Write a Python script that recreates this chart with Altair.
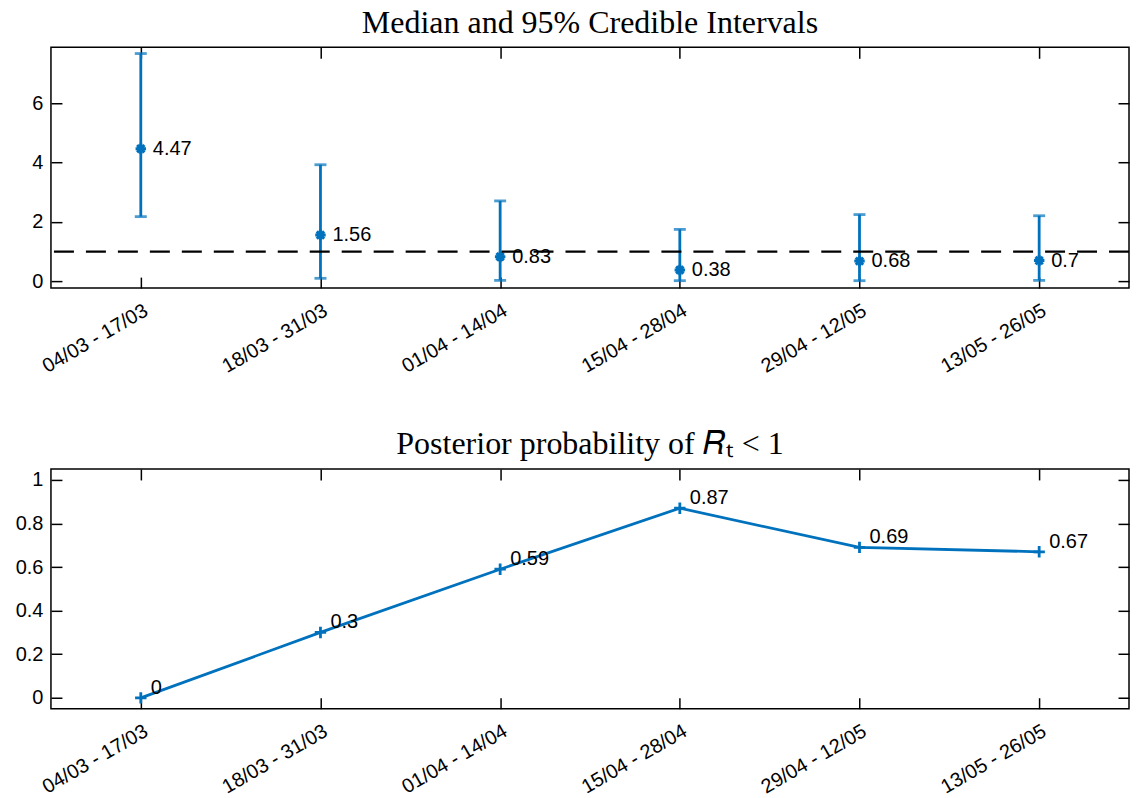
import altair as alt
import pandas as pd

# ---------------- data ----------------
periods = ["04/03 - 17/03", "18/03 - 31/03", "01/04 - 14/04",
           "15/04 - 28/04", "29/04 - 12/05", "13/05 - 26/05"]
median = [4.47, 1.56, 0.83, 0.38, 0.68, 0.7]
lower = [2.18, 0.10, 0.03, 0.02, 0.02, 0.03]
upper = [7.68, 3.93, 2.71, 1.75, 2.25, 2.21]
median_labels = ["4.47", "1.56", "0.83", "0.38", "0.68", "0.7"]
prob = [0, 0.3, 0.59, 0.87, 0.69, 0.67]
prob_labels = ["0", "0.3", "0.59", "0.87", "0.69", "0.67"]
threshold = [1]

top_df = pd.DataFrame({"period": periods, "median": median, "lower": lower,
                       "upper": upper, "label": median_labels})
bot_df = pd.DataFrame({"period": periods, "prob": prob, "label": prob_labels})
thr_df = pd.DataFrame({"y": threshold})

# ---------------- style ----------------
BLUE = "#0072BD"
TS = 11
FONT = "Liberation Sans"
FS = 20
W = 1079
LW = 2.8

ASTERISK = "M-1,0L1,0M0,-1L0,1M-0.7,-0.7L0.7,0.7M-0.7,0.7L0.7,-0.7"
PLUS = "M-1,0L1,0M0,-1L0,1"

xscale = alt.Scale(type="point", domain=periods, padding=0.5)


def ax(orient, labels=True, **kw):
    base = dict(orient=orient, offset=-TS, tickSize=TS, domain=False, grid=False,
                title=None, tickColor="black", tickWidth=1.5, labels=labels)
    if labels:
        base.update(labelFont=FONT, labelFontSize=FS, labelColor="black")
    base.update(kw)
    return alt.Axis(**base)


xb = ax("bottom", labelAngle=-30, labelAlign="right", labelBaseline="top", labelPadding=12)
xt = ax("top", labels=False)


def title(t):
    return alt.Title(t, font="Liberation Serif", fontSize=32, fontWeight="normal",
                     color="black", anchor="middle", frame="group", offset=7)


# ---------------- top chart ----------------
ys1 = alt.Scale(domain=[-0.23, 7.89], nice=False, zero=False)
base1 = alt.Chart(top_df)

err = base1.mark_rule(color=BLUE, strokeWidth=LW).encode(
    x=alt.X("period:N", scale=xscale, axis=xb),
    y=alt.Y("lower:Q", scale=ys1, axis=ax("left", values=[0, 2, 4, 6], labelPadding=8)),
    y2="upper:Q",
)
cap_lo = base1.mark_tick(color=BLUE, orient="horizontal", size=12, thickness=LW).encode(
    x=alt.X("period:N", scale=xscale, axis=xt),
    y=alt.Y("lower:Q", scale=ys1, axis=ax("right", labels=False, values=[0, 2, 4, 6])),
)
cap_hi = base1.mark_tick(color=BLUE, orient="horizontal", size=12, thickness=LW).encode(
    x=alt.X("period:N", scale=xscale, axis=None),
    y=alt.Y("upper:Q", scale=ys1, axis=None),
)
pts1 = base1.mark_point(shape=ASTERISK, size=110, strokeWidth=3, color=BLUE,
                        filled=False, opacity=1).encode(
    x=alt.X("period:N", scale=xscale, axis=None),
    y=alt.Y("median:Q", scale=ys1, axis=None),
)
txt1 = base1.mark_text(align="left", baseline="middle", dx=12, font=FONT,
                       fontSize=FS, color="black").encode(
    x=alt.X("period:N", scale=xscale, axis=None),
    y=alt.Y("median:Q", scale=ys1, axis=None),
    text="label:N",
)
dash = alt.Chart(thr_df).mark_rule(color="black", strokeWidth=2.2, strokeDash=[20, 12]).encode(
    y=alt.Y("y:Q", scale=ys1, axis=None),
)

top = alt.layer(err, cap_lo, cap_hi, pts1, txt1, dash).resolve_axis(
    x="independent", y="independent"
).properties(width=W, height=241, title=title("Median and 95% Credible Intervals"))

# ---------------- bottom chart ----------------
ys2 = alt.Scale(domain=[-0.05, 1.05], nice=False, zero=False)
base2 = alt.Chart(bot_df)
yvals2 = [0, 0.2, 0.4, 0.6, 0.8, 1]

line = base2.mark_line(color=BLUE, strokeWidth=LW).encode(
    x=alt.X("period:N", scale=xscale, axis=xb),
    y=alt.Y("prob:Q", scale=ys2,
            axis=ax("left", values=yvals2, format="~g", labelPadding=8)),
)
pts2 = base2.mark_point(shape=PLUS, size=130, strokeWidth=2.8, color=BLUE,
                        filled=False, opacity=1).encode(
    x=alt.X("period:N", scale=xscale, axis=xt),
    y=alt.Y("prob:Q", scale=ys2, axis=ax("right", labels=False, values=yvals2)),
)
txt2 = base2.mark_text(align="left", baseline="alphabetic", dx=10, dy=-4, font=FONT,
                       fontSize=FS, color="black").encode(
    x=alt.X("period:N", scale=xscale, axis=None),
    y=alt.Y("prob:Q", scale=ys2, axis=None),
    text="label:N",
)

bottom = alt.layer(line, pts2, txt2).resolve_axis(
    x="independent", y="independent"
).properties(width=W, height=240, title=title("Posterior probability of 𝑅ₜ < 1"))

chart = alt.vconcat(top, bottom, spacing=49).properties(
    padding={"left": 14, "top": 5, "right": 5, "bottom": 5},
    background="white",
).configure_view(stroke="black", strokeWidth=1.5)

chart.save("out.html", embed_options={"renderer": "svg", "actions": False})
